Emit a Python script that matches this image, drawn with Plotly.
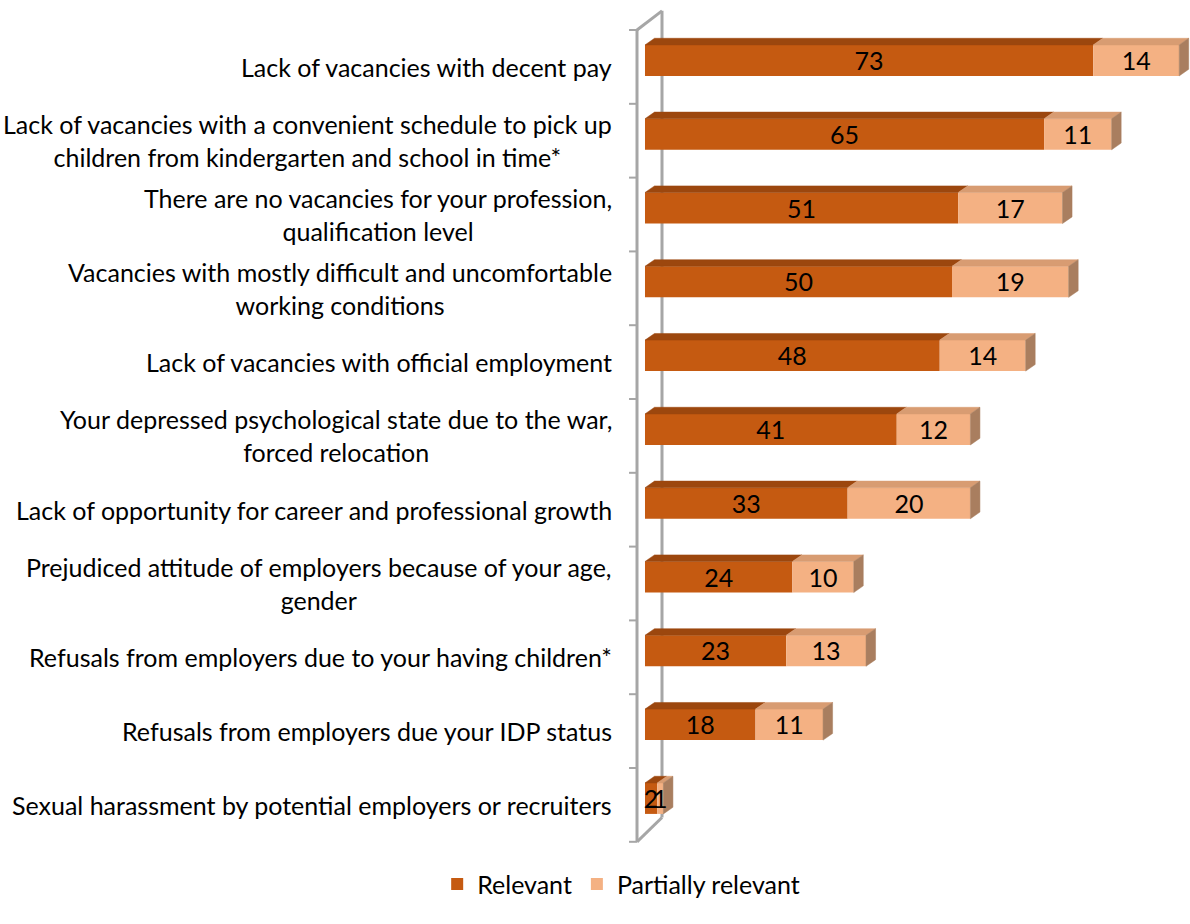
import plotly.graph_objects as go

# Survey answers, listed top to bottom
categories = [
    "Lack of vacancies with decent pay",
    "Lack of vacancies with a convenient schedule to pick up<br>children from kindergarten and school in time*",
    "There are no vacancies for your profession,<br>qualification level",
    "Vacancies with mostly difficult and uncomfortable<br>working conditions",
    "Lack of vacancies with official employment",
    "Your depressed psychological state due to the war,<br>forced relocation",
    "Lack of opportunity for career and professional growth",
    "Prejudiced attitude of employers because of your age,<br>gender",
    "Refusals from employers due to your having children*",
    "Refusals from employers due your IDP status",
    "Sexual harassment by potential employers or recruiters",
]
relevant = [73, 65, 51, 50, 48, 41, 33, 24, 23, 18, 2]
partially_relevant = [14, 11, 17, 19, 14, 12, 20, 10, 13, 11, 1]

series_names = ["Relevant", "Partially relevant"]
front_colors = ["#C55A11", "#F4B183"]
top_colors = ["#9C470E", "#D89C72"]
side_color = "#A97E5F"
wall_color = "#A6A6A6"

FONT = "Lato"
TEXT_SIZE = 25

# geometry of the pseudo-3D bars (axis units)
BAR_W = 0.42       # front face thickness (category units)
SHIFT = 0.088      # bars sit slightly above the category centre
DX = 1.55          # depth along x (value units)
DY = 0.09          # depth along y (category units)
LABEL_NUDGE = 0.045  # value text sits a touch below the face centre

n = len(categories)
ypos = list(range(n))
bar_y = [k - SHIFT for k in ypos]

fig = go.Figure()

series = [relevant, partially_relevant]
bases = [[0] * n, relevant]

# front faces
for name, vals, base, col in zip(series_names, series, bases, front_colors):
    fig.add_trace(go.Bar(
        y=bar_y, x=vals, base=base, orientation="h", name=name,
        width=BAR_W, marker=dict(color=col, line=dict(width=0)),
        hoverinfo="skip",
    ))

# top faces
for vals, base, col in zip(series, bases, top_colors):
    xs, ys = [], []
    for c, v, b in zip(bar_y, vals, base):
        top = c - BAR_W / 2
        xs += [b, b + v, b + v + DX, b + DX, b, None]
        ys += [top, top, top - DY, top - DY, top, None]
    fig.add_trace(go.Scatter(
        x=xs, y=ys, mode="lines", fill="toself", fillcolor=col,
        line=dict(color=col, width=0.5), showlegend=False, hoverinfo="skip",
    ))

# right-hand side faces
xs, ys = [], []
for c, r, p in zip(bar_y, relevant, partially_relevant):
    e = r + p
    top, bot = c - BAR_W / 2, c + BAR_W / 2
    xs += [e, e + DX, e + DX, e, e, None]
    ys += [top, top - DY, bot - DY, bot, top, None]
fig.add_trace(go.Scatter(
    x=xs, y=ys, mode="lines", fill="toself", fillcolor=side_color,
    line=dict(color=side_color, width=0.5), showlegend=False, hoverinfo="skip",
))

# value labels centred on each segment
for vals, base in zip(series, bases):
    fig.add_trace(go.Scatter(
        x=[b + v / 2 for v, b in zip(vals, base)],
        y=[c + LABEL_NUDGE for c in bar_y],
        mode="text", text=[str(v) for v in vals],
        textfont=dict(family=FONT, size=TEXT_SIZE, color="#000000"),
        textposition="middle center", showlegend=False, hoverinfo="skip",
    ))

# category labels, right-aligned block, centred lines
for k, lab in zip(ypos, categories):
    fig.add_annotation(
        x=0, xref="paper", xanchor="right", xshift=-6,
        y=k, yref="y", yanchor="middle",
        text=lab, showarrow=False, align="center",
        font=dict(family=FONT, size=TEXT_SIZE, color="#000000"),
    )

# side wall of the 3D frame
front_x, back_x, tick_x = -1.30, 2.77, -2.6
y_top, y_bot = -0.5, n - 0.5
wall = dict(color=wall_color, width=3)
fig.add_shape(type="line", x0=front_x, x1=front_x, y0=y_top, y1=y_bot, line=wall, layer="below")
fig.add_shape(type="line", x0=back_x, x1=back_x, y0=y_top - 0.26, y1=y_bot - 0.33, line=wall, layer="below")
fig.add_shape(type="line", x0=front_x, x1=back_x, y0=y_top, y1=y_top - 0.26, line=wall, layer="below")
fig.add_shape(type="line", x0=front_x, x1=back_x, y0=y_bot, y1=y_bot - 0.33, line=wall, layer="below")
for j in range(n + 1):
    fig.add_shape(type="line", x0=tick_x, x1=front_x, y0=y_top + j, y1=y_top + j,
                  line=dict(color=wall_color, width=2), layer="below")

fig.update_layout(
    width=1190, height=924,
    margin=dict(l=620, r=0, t=5, b=74),
    paper_bgcolor="white", plot_bgcolor="white",
    barmode="overlay",
    font=dict(family=FONT, size=TEXT_SIZE, color="#000000"),
    xaxis=dict(range=[-4.07, 88.76], visible=False, fixedrange=True),
    yaxis=dict(range=[10.611, -0.839], visible=False, fixedrange=True),
    legend=dict(
        orientation="h", xref="container", yref="container",
        x=0.522, xanchor="center", y=0.043, yanchor="middle",
        font=dict(family=FONT, size=TEXT_SIZE, color="#000000"),
        itemwidth=30, traceorder="normal",
    ),
)

fig.write_html("out.html")
